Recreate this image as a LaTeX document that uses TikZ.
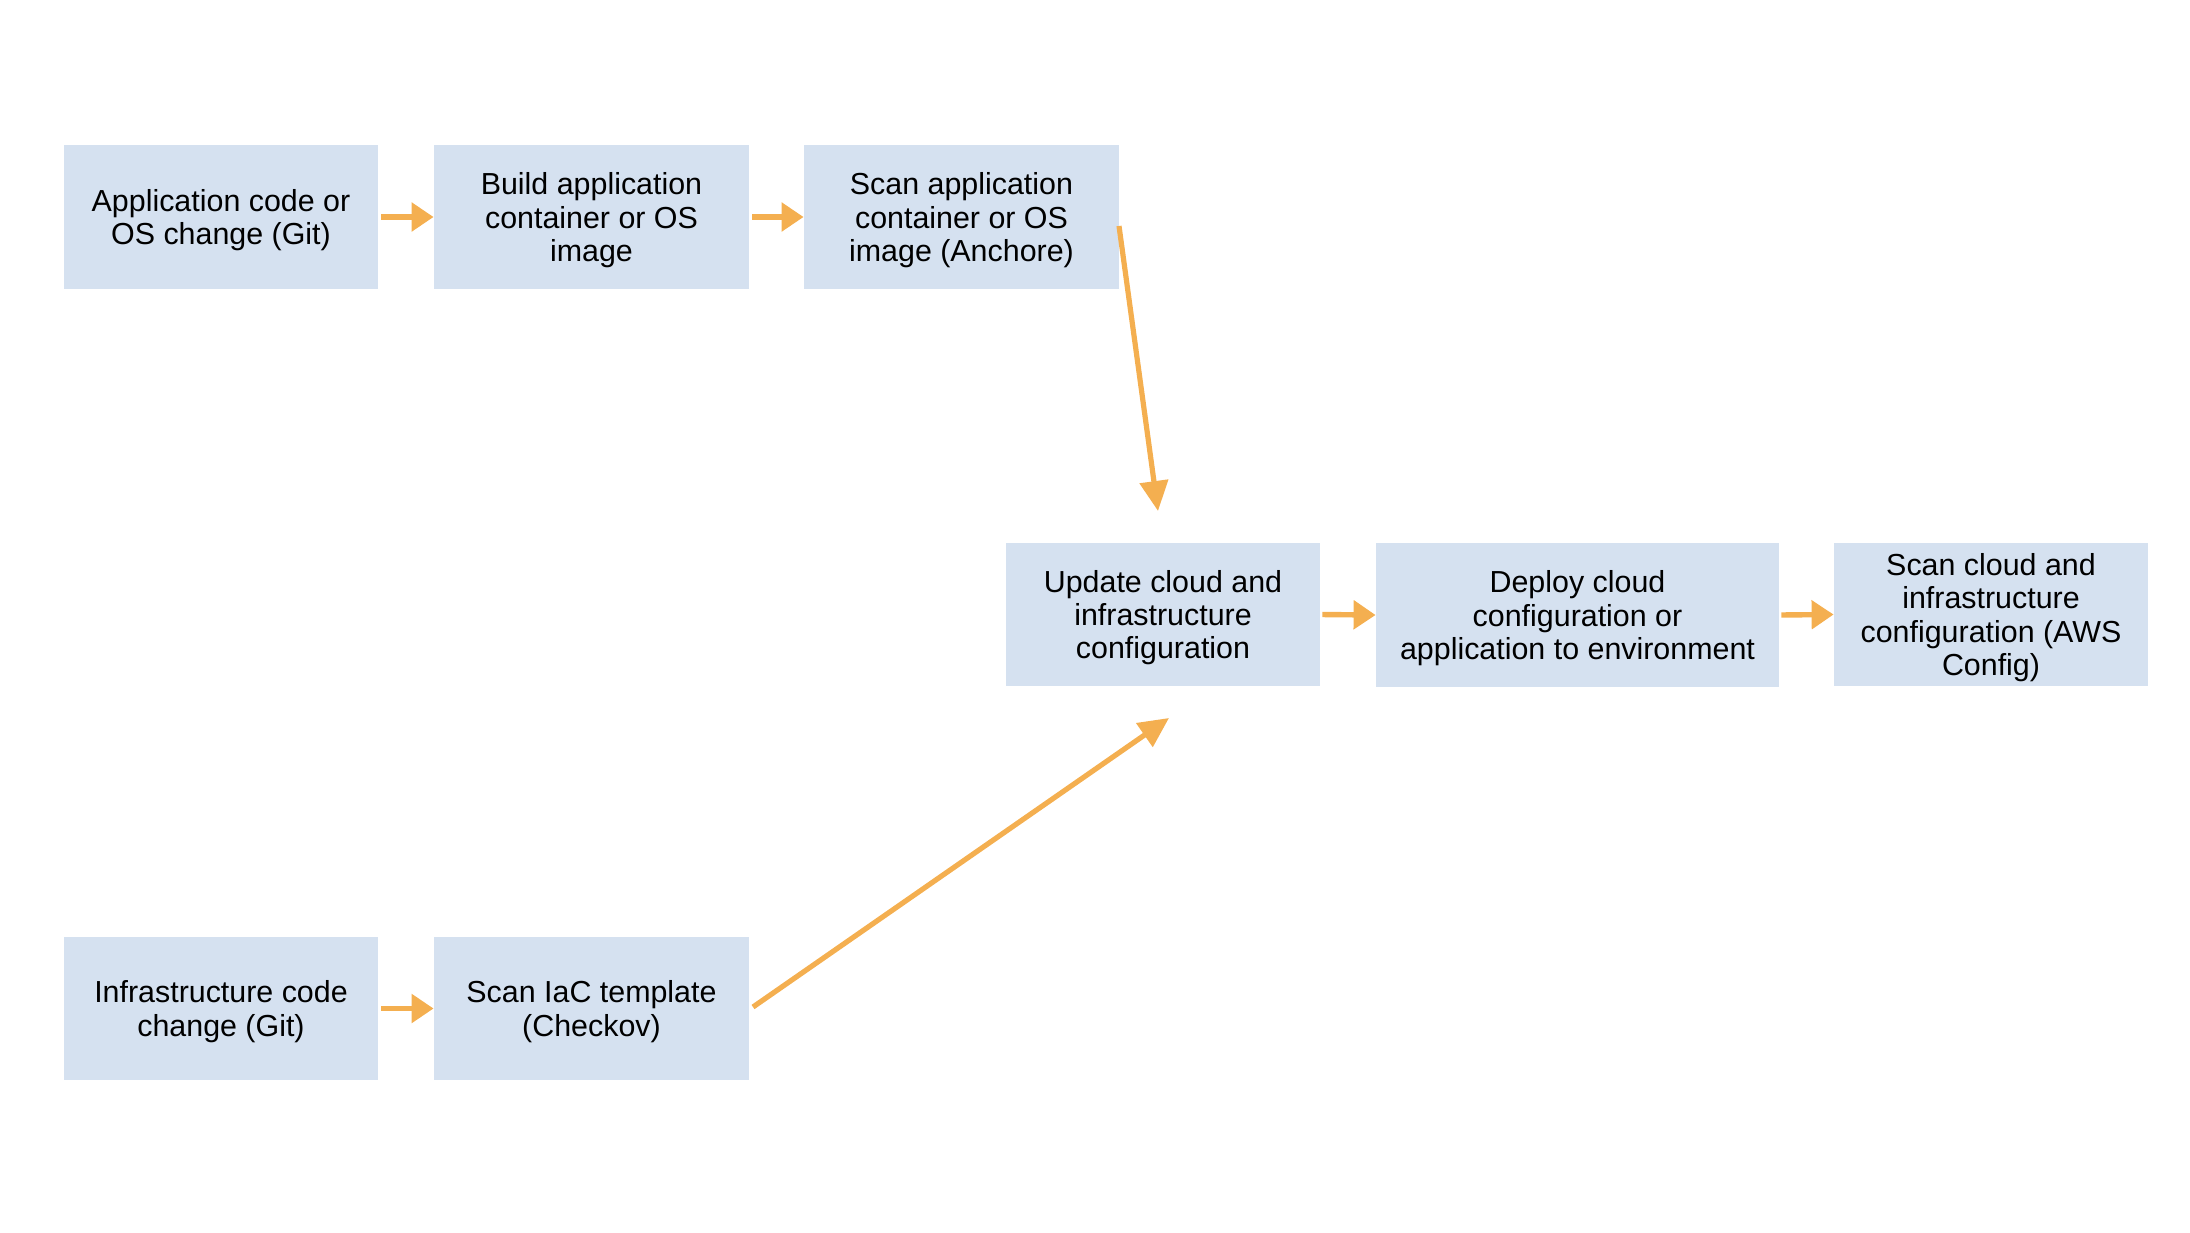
\documentclass[tikz,border=0pt]{standalone}
\usepackage{fontspec}
\setmainfont{Liberation Sans}
\usetikzlibrary{arrows.meta}
\definecolor{boxfill}{RGB}{213,225,240}
\definecolor{arrowc}{RGB}{244,175,80}
\tikzset{
  box/.style={fill=boxfill, draw=none, align=center, inner sep=0pt,
    font=\fontsize{15.2pt}{16.7pt}\selectfont, text=black,
    text depth=-1.4pt},
  flow/.style={draw=arrowc, line width=2.7pt, -{Triangle[length=11pt,width=14pt]}},
  longflow/.style={draw=arrowc, line width=2.6pt, -{Triangle[length=15pt,width=14pt]}}
}
\begin{document}
\begin{tikzpicture}[x=0.5pt,y=-0.5pt]
\useasboundingbox (0,0) rectangle (2190,1232);
% boxes (pixel corners)
\node[box, minimum width=157pt, minimum height=72pt] (a) at (221,217) {Application code or\\OS change (Git)};
\node[box, minimum width=157.5pt, minimum height=72pt] (b) at (591.5,217) {Build application\\container or OS\\image};
\node[box, minimum width=157.5pt, minimum height=72pt] (c) at (961.5,217) {Scan application\\container or OS\\image (Anchore)};
\node[box, minimum width=157pt, minimum height=71.5pt] (d) at (1163,614.5) {Update cloud and\\infrastructure\\configuration};
\node[box, minimum width=201.5pt, minimum height=72pt] (e) at (1577.5,615) {Deploy cloud\\configuration or\\application to environment};
\node[box, minimum width=157pt, minimum height=71.5pt] (f) at (1991,614.5) {Scan cloud and\\infrastructure\\configuration (AWS\\Config)};
\node[box, minimum width=157pt, minimum height=71.5pt] (g) at (221,1008.5) {Infrastructure code\\change (Git)};
\node[box, minimum width=157.5pt, minimum height=71.5pt] (h) at (591.5,1008.5) {Scan IaC template\\(Checkov)};
% free ends of the long connectors
\coordinate (cs) at (1119,226);
\coordinate (ct) at (1158,511);
\coordinate (hs) at (753,1007);
\coordinate (ht) at (1169,718);
% connectors
\draw[flow, shorten <=1.5pt] (a.east) -- (b.west);
\draw[flow, shorten <=1.5pt] (b.east) -- (c.west);
\draw[flow, shorten <=1pt] (d.east) -- (e.west);
\draw[flow, shorten <=1pt] (e.east) -- (f.west);
\draw[flow, shorten <=1.5pt] (g.east) -- (h.west);
\draw[longflow] (cs) -- (ct);
\draw[longflow] (hs) -- (ht);
\end{tikzpicture}
\end{document}
